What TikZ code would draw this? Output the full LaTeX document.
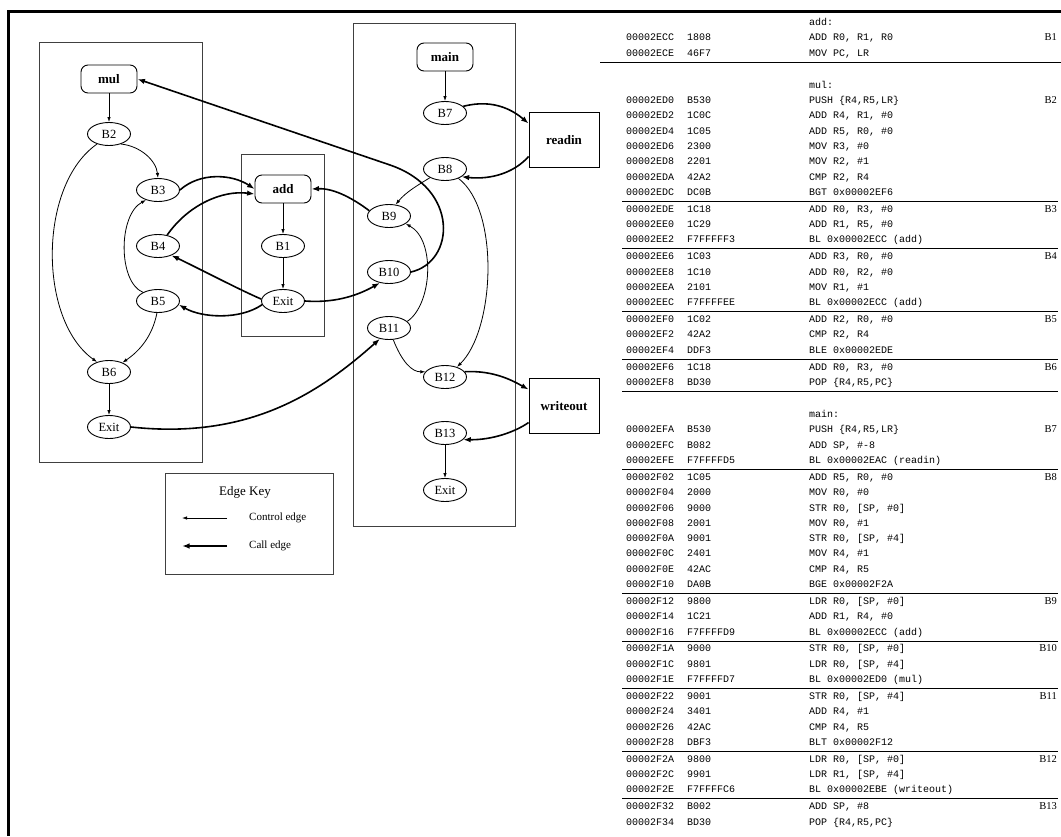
\documentclass[tikz,border=0pt]{standalone}
\usepackage{fontspec}
\setmainfont{Liberation Serif}
\setmonofont{Liberation Mono}
\usetikzlibrary{arrows.meta,shapes.geometric}

% listing rows: running y position
\newcommand\rowgap{15.3}
\newcommand\sepgap{1.6}
\def\rowy{23}
\newcommand\nextrow{\pgfmathparse{\rowy+\rowgap}\xdef\rowy{\pgfmathresult}}
\newcommand\asmlabel[2]{\node[asm] (#1) at (809,\rowy) {#2};\nextrow}
\newcommand\asmrow[4]{%
  \node[asm] (a#1) at (626,\rowy) {#1};
  \node[asm] (o#1) at (687,\rowy) {#2};
  \node[asm] (i#1) at (809,\rowy) {#3};
  \if\relax\detokenize{#4}\relax\else
    \node[blklbl] (b#1) at (1057,\rowy) {#4};
  \fi
  \nextrow}
\newcommand\asmsep[2]{%
  \draw[sepline] (#1,\rowy-\rowgap/2+\sepgap/2) -- (#2,\rowy-\rowgap/2+\sepgap/2);
  \pgfmathparse{\rowy+\sepgap}\xdef\rowy{\pgfmathresult}}

\begin{document}
\begin{tikzpicture}[x=1pt,y=-1pt,
    fnode/.style={draw, line width=0.9pt, rounded corners=7pt, minimum width=56pt, minimum height=28pt, inner sep=0pt, font=\fontsize{13}{15}\selectfont\bfseries},
    bnode/.style={draw, line width=0.9pt, ellipse, minimum width=43pt, minimum height=23pt, inner sep=0pt, font=\fontsize{12.5}{14}\selectfont},
    xnode/.style={draw, line width=0.9pt, minimum width=70pt, minimum height=55pt, inner sep=0pt, font=\fontsize{13}{15}\selectfont\bfseries},
    cluster/.style={draw=black!75, line width=0.9pt},
    ctrl/.style={-{Latex[length=5pt,width=3.5pt]}, line width=0.8pt},
    call/.style={-{Latex[length=7.5pt,width=5.5pt]}, line width=1.6pt},
    asm/.style={anchor=west, inner sep=0pt, text height=7pt, text depth=2pt, font=\fontsize{10}{12}\selectfont\ttfamily},
    blklbl/.style={anchor=east, inner sep=0pt, text height=7pt, text depth=2pt, font=\fontsize{10.5}{12}\selectfont},
    sepline/.style={line width=0.9pt}
]
\useasboundingbox (0,0) rectangle (1061,836);
\draw[line width=3pt] (1061,11) -- (8,11) -- (8,836);

% Clusters
\draw[cluster] (39,42) rectangle (202,462);
\draw[cluster] (241,154) rectangle (324,336);
\draw[cluster] (353,23) rectangle (515,526);

% mul
\node[fnode] (mul) at (109,79) {mul};
\node[bnode] (B2) at (109,134) {B2};
\node[bnode] (B3) at (158,190) {B3};
\node[bnode] (B4) at (158,246) {B4};
\node[bnode] (B5) at (158,301) {B5};
\node[bnode] (B6) at (109,372) {B6};
\node[bnode] (mulexit) at (109,427) {Exit};

% add
\node[fnode] (add) at (283,189) {add};
\node[bnode] (B1) at (283,246) {B1};
\node[bnode] (addexit) at (283,301) {Exit};

% main
\node[fnode] (main) at (445,57) {main};
\node[bnode] (B7) at (445,113) {B7};
\node[bnode] (B8) at (445,169) {B8};
\node[bnode] (B9) at (389,216) {B9};
\node[bnode] (B10) at (389,272) {B10};
\node[bnode] (B11) at (389,328) {B11};
\node[bnode] (B12) at (445,377) {B12};
\node[bnode] (B13) at (445,433) {B13};
\node[bnode] (mainexit) at (445,490) {Exit};
\node[xnode] (readin) at (564,140) {readin};
\node[xnode] (writeout) at (564,406) {writeout};

% Control edges
\draw[ctrl] (mul) -- (B2);
\draw[ctrl] (B2.-40) .. controls (140,146) and (156,160) .. (B3.north);
\draw[ctrl] (B2.-140) .. controls (38,185) and (38,320) .. (B6.140);
\draw[ctrl] (B5.150) .. controls (118,282) and (118,215) .. (B3.-140);
\draw[ctrl] (B5.-95) .. controls (152,338) and (138,352) .. (B6.35);
\draw[ctrl] (B6) -- (mulexit);
\draw[ctrl] (add) -- (B1);
\draw[ctrl] (B1) -- (addexit);
\draw[ctrl] (main) -- (B7);
\draw[ctrl] (B8.-150) .. controls (418,185) and (406,192) .. (B9.60);
\draw[ctrl] (B8.-35) .. controls (500,210) and (495,330) .. (B12.40);
\draw[ctrl] (B11.20) .. controls (432,305) and (436,240) .. (B9.-25);
\draw[ctrl] (B11.-70) .. controls (402,362) and (412,372) .. (B12.165);
\draw[ctrl] (B13) -- (mainexit);

% Call edges
\draw[call] (B3.east) .. controls (200,172) and (232,174) .. (add.west);
\draw[call] (B4.50) .. controls (188,205) and (222,190) .. (add.-170);
\draw[call] (addexit.175) .. controls (240,290) and (198,268) .. (B4.-35);
\draw[call] (addexit.-170) .. controls (240,320) and (202,318) .. (B5.-10);
\draw[call] (addexit.east) .. controls (332,303) and (355,297) .. (B10.-130);
\draw[call] (B9.165) .. controls (355,200) and (335,188) .. (add.east);
\draw[call] (B10.east) .. controls (455,262) and (460,189) .. (390,165) -- (mul.east);
\draw[call] (mulexit.east) .. controls (250,440) and (320,392) .. (B11.-130);
\draw[call] (B7.20) .. controls (495,98) and (515,112) .. (readin.155);
\draw[call] (readin.-155) .. controls (515,172) and (492,180) .. (B8.-25);
\draw[call] (B12.15) .. controls (495,370) and (515,382) .. (writeout.155);
\draw[call] (writeout.-155) .. controls (515,432) and (492,440) .. (B13.-20);

% Edge key
\draw[cluster] (165,473) rectangle (333,574);
\node[font=\fontsize{13}{15}\selectfont] (keytitle) at (245,492) {Edge Key};
\node[anchor=west, inner sep=0pt, font=\fontsize{11}{13}\selectfont] (keyctrl) at (249,518) {Control edge};
\node[anchor=west, inner sep=0pt, font=\fontsize{11}{13}\selectfont] (keycall) at (249,546) {Call edge};
\coordinate (kc0) at (227,518);
\coordinate (kc1) at (182,518);
\coordinate (kk0) at (227,546);
\coordinate (kk1) at (182,546);
\draw[ctrl] (kc0) -- (kc1);
\draw[call] (kk0) -- (kk1);

% Listing
\asmlabel{ladd}{add:}
\asmrow{00002ECC}{1808}{ADD R0, R1, R0}{B1}
\asmrow{00002ECE}{46F7}{MOV PC, LR}{}
\asmsep{600}{1061}
\nextrow
\asmlabel{lmul}{mul:}
\asmrow{00002ED0}{B530}{PUSH \{R4,R5,LR\}}{B2}
\asmrow{00002ED2}{1C0C}{ADD R4, R1, \#0}{}
\asmrow{00002ED4}{1C05}{ADD R5, R0, \#0}{}
\asmrow{00002ED6}{2300}{MOV R3, \#0}{}
\asmrow{00002ED8}{2201}{MOV R2, \#1}{}
\asmrow{00002EDA}{42A2}{CMP R2, R4}{}
\asmrow{00002EDC}{DC0B}{BGT 0x00002EF6}{}
\asmsep{622}{1058}
\asmrow{00002EDE}{1C18}{ADD R0, R3, \#0}{B3}
\asmrow{00002EE0}{1C29}{ADD R1, R5, \#0}{}
\asmrow{00002EE2}{F7FFFFF3}{BL 0x00002ECC (add)}{}
\asmsep{622}{1058}
\asmrow{00002EE6}{1C03}{ADD R3, R0, \#0}{B4}
\asmrow{00002EE8}{1C10}{ADD R0, R2, \#0}{}
\asmrow{00002EEA}{2101}{MOV R1, \#1}{}
\asmrow{00002EEC}{F7FFFFEE}{BL 0x00002ECC (add)}{}
\asmsep{622}{1058}
\asmrow{00002EF0}{1C02}{ADD R2, R0, \#0}{B5}
\asmrow{00002EF2}{42A2}{CMP R2, R4}{}
\asmrow{00002EF4}{DDF3}{BLE 0x00002EDE}{}
\asmsep{622}{1058}
\asmrow{00002EF6}{1C18}{ADD R0, R3, \#0}{B6}
\asmrow{00002EF8}{BD30}{POP \{R4,R5,PC\}}{}
\asmsep{622}{1058}
\nextrow
\asmlabel{lmain}{main:}
\asmrow{00002EFA}{B530}{PUSH \{R4,R5,LR\}}{B7}
\asmrow{00002EFC}{B082}{ADD SP, \#-8}{}
\asmrow{00002EFE}{F7FFFFD5}{BL 0x00002EAC (readin)}{}
\asmsep{622}{1058}
\asmrow{00002F02}{1C05}{ADD R5, R0, \#0}{B8}
\asmrow{00002F04}{2000}{MOV R0, \#0}{}
\asmrow{00002F06}{9000}{STR R0, [SP, \#0]}{}
\asmrow{00002F08}{2001}{MOV R0, \#1}{}
\asmrow{00002F0A}{9001}{STR R0, [SP, \#4]}{}
\asmrow{00002F0C}{2401}{MOV R4, \#1}{}
\asmrow{00002F0E}{42AC}{CMP R4, R5}{}
\asmrow{00002F10}{DA0B}{BGE 0x00002F2A}{}
\asmsep{622}{1058}
\asmrow{00002F12}{9800}{LDR R0, [SP, \#0]}{B9}
\asmrow{00002F14}{1C21}{ADD R1, R4, \#0}{}
\asmrow{00002F16}{F7FFFFD9}{BL 0x00002ECC (add)}{}
\asmsep{622}{1058}
\asmrow{00002F1A}{9000}{STR R0, [SP, \#0]}{B10}
\asmrow{00002F1C}{9801}{LDR R0, [SP, \#4]}{}
\asmrow{00002F1E}{F7FFFFD7}{BL 0x00002ED0 (mul)}{}
\asmsep{622}{1058}
\asmrow{00002F22}{9001}{STR R0, [SP, \#4]}{B11}
\asmrow{00002F24}{3401}{ADD R4, \#1}{}
\asmrow{00002F26}{42AC}{CMP R4, R5}{}
\asmrow{00002F28}{DBF3}{BLT 0x00002F12}{}
\asmsep{622}{1058}
\asmrow{00002F2A}{9800}{LDR R0, [SP, \#0]}{B12}
\asmrow{00002F2C}{9901}{LDR R1, [SP, \#4]}{}
\asmrow{00002F2E}{F7FFFFC6}{BL 0x00002EBE (writeout)}{}
\asmsep{622}{1058}
\asmrow{00002F32}{B002}{ADD SP, \#8}{B13}
\asmrow{00002F34}{BD30}{POP \{R4,R5,PC\}}{}
\end{tikzpicture}
\end{document}
